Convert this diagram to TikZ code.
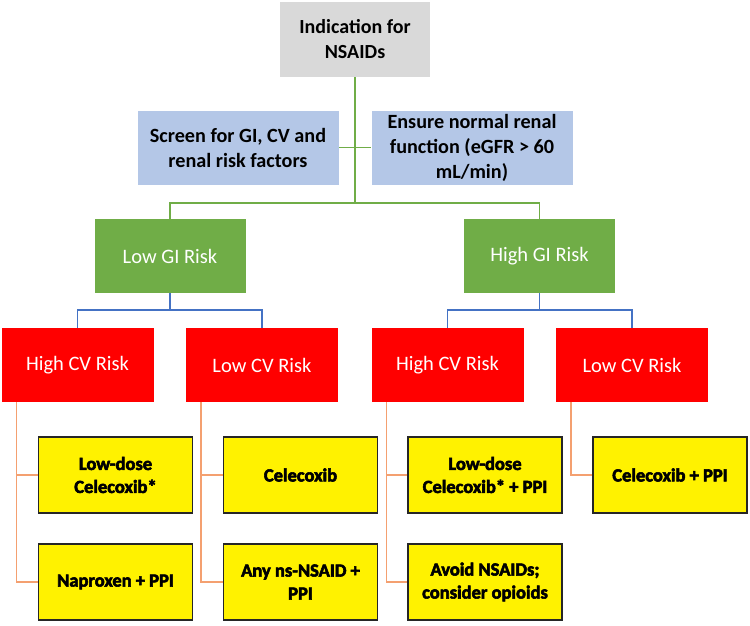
\documentclass[tikz,border=0pt]{standalone}
\usepackage{fontspec}
\setmainfont{Carlito}
\newfontfamily\heavyfont{Carlito Bold}[FakeBold=3]
\definecolor{greybox}{HTML}{D9D9D9}
\definecolor{bluebox}{HTML}{B4C7E7}
\definecolor{greenbox}{HTML}{70AD47}
\definecolor{bluelink}{HTML}{4472C4}
\definecolor{orangelink}{HTML}{F4A070}
\begin{document}
\begin{tikzpicture}[x=1pt,y=-1pt,
  box/.style={rectangle, anchor=center, inner sep=2pt, align=center, font=\fontsize{20.5}{24}\selectfont},
  topbox/.style={box, fill=greybox, minimum width=150pt, minimum height=75pt, font=\fontsize{20}{25}\selectfont\bfseries},
  screenbox/.style={box, fill=bluebox, draw=white, line width=0.8pt, minimum width=202pt, minimum height=75pt, font=\fontsize{20.2}{25}\selectfont\bfseries},
  gibox/.style={box, fill=greenbox, text=white, minimum width=151pt, minimum height=74pt},
  cvbox/.style={box, fill=red, text=white, minimum width=152pt, minimum height=74pt},
  treatbox/.style={box, fill=yellow, draw=black!85, line width=1.3pt, minimum width=154pt, minimum height=76pt, font=\fontsize{18.5}{23}\heavyfont},
  glink/.style={draw=greenbox, line width=1.6pt},
  blink/.style={draw=bluelink, line width=1.8pt},
  olink/.style={draw=orangelink, line width=1.5pt}
]
\useasboundingbox (0,0) rectangle (750,625);

\node[topbox] (ind) at (355,39.5) {Indication for\\NSAIDs};
\node[screenbox] (scr) at (238,147.5) {Screen for GI, CV and\\renal risk factors};
\node[screenbox] (ren) at (472,147.5) {Ensure normal renal\\function (eGFR > 60\\mL/min)};

\node[gibox] (lgi) at (170,256) {Low GI Risk};
\node[gibox] (hgi) at (539.5,256) {High GI Risk};

\node[cvbox] (r1) at (77.5,365) {High CV Risk};
\node[cvbox] (r2) at (262,365) {Low CV Risk};
\node[cvbox] (r3) at (447.5,365) {High CV Risk};
\node[cvbox] (r4) at (632,365) {Low CV Risk};

\node[treatbox] (t11) at (115.5,475) {Low-dose\\Celecoxib*};
\node[treatbox] (t12) at (115.5,582) {Naproxen + PPI};
\node[treatbox] (t21) at (300.5,475) {Celecoxib};
\node[treatbox] (t22) at (300.5,582) {Any ns-NSAID +\\PPI};
\node[treatbox] (t31) at (485,475) {Low-dose\\Celecoxib* + PPI};
\node[treatbox] (t32) at (485,582) {Avoid NSAIDs;\\consider opioids};
\node[treatbox] (t41) at (670,475) {Celecoxib + PPI};

% green tree
\coordinate (gbus) at (355,203);
\draw[glink] (ind.south) -- (gbus);
\draw[glink] (scr.east) -- (ren.west);
\draw[glink] (lgi.north) |- (gbus) -| (hgi.north);

% blue links
\coordinate (lbus) at (170,310);
\coordinate (hbus) at (539.5,310);
\draw[blink] (lgi.south) -- (lbus);
\draw[blink] (r1.north) |- (lbus) -| (r2.north);
\draw[blink] (hgi.south) -- (hbus);
\draw[blink] (r3.north) |- (hbus) -| (r4.north);

% orange links
\draw[olink] ([xshift=15pt]r1.south west) |- (t12.west);
\draw[olink] ([xshift=15pt]r1.south west) |- (t11.west);
\draw[olink] ([xshift=15pt]r2.south west) |- (t22.west);
\draw[olink] ([xshift=15pt]r2.south west) |- (t21.west);
\draw[olink] ([xshift=15pt]r3.south west) |- (t32.west);
\draw[olink] ([xshift=15pt]r3.south west) |- (t31.west);
\draw[olink] ([xshift=15pt]r4.south west) |- (t41.west);
\end{tikzpicture}
\end{document}
